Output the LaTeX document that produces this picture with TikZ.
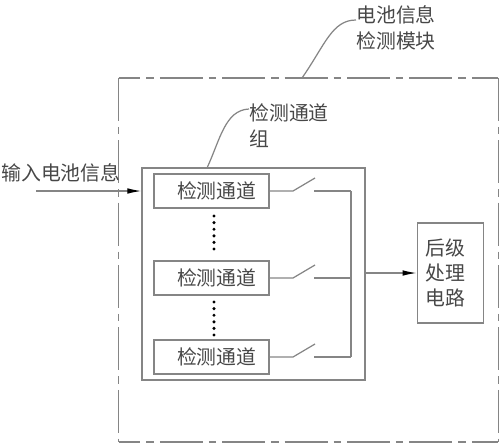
\documentclass[tikz,border=0pt]{standalone}
\usepackage{fontspec}
\setmainfont{Noto Sans CJK SC}
\usepackage{tikz}
\usetikzlibrary{arrows.meta, positioning, calc}
\colorlet{wire}{black!48}
\colorlet{ink}{black!72}
\tikzset{
  caption/.style={font=\fontsize{11.3}{14.8}\selectfont, text=ink, inner sep=0pt, align=left},
  box/.style={draw=wire, line width=0.7pt, inner sep=0pt},
  channel/.style={box, caption, minimum width=2.3cm, minimum height=0.68cm},
  link/.style={draw=wire, line width=0.7pt},
  flow/.style={link, -{Latex[length=8pt,width=3.2pt,color=black]}},
  frameside/.style={link, dash pattern=on 24.4pt off 3.4pt on 4.3pt off 3.4pt},
}
\def\nudge{\hspace*{6pt}}
\def\inset{\hspace*{0.17cm}}

\begin{document}
\begin{tikzpicture}[x=0.02cm, y=-0.02cm]
  \useasboundingbox (0,0) rectangle (500,443);
  % --- outer module and channel group ---
  \node[minimum width=7.58cm, minimum height=7.27cm, inner sep=0pt] (module) at (308.5,260) {};
  \draw[frameside, dash phase=12pt] (module.north west) -- (module.north east);
  \draw[frameside, dash phase=12pt] (module.south west) -- (module.south east);
  \draw[frameside] (module.north west) -- (module.south west);
  \draw[frameside] (module.north east) -- (module.south east);
  \node[box, minimum width=4.46cm, minimum height=4.24cm] (group) at (253.5,274) {};
  % --- channels, switches and the common bus ---
  \def\busx{351}
  \foreach \n/\y in {a/191, b/278, c/357} {
    \node[channel] (chan\n) at (211.5,\y) {\nudge 检测通道};
    \coordinate (pivot\n) at (293,\y);
    \coordinate (blade\n) at (315,\y-13);
    \coordinate (contact\n) at (314,\y);
    \coordinate (bus\n) at (\busx,\y);
    \draw[link] (chan\n.east) -- (pivot\n) -- (blade\n);
    \draw[link] (contact\n) -- (bus\n);
  }
  \draw[link] (busa) -- (busc);
  % --- dots between the channels ---
  \foreach \y in {216,222.6,229.2,235.8,242.4,249,302,308.6,315.2,321.8,328.4,335} {
    \fill[black] (214,\y) circle (1.7);
  }
  % --- back-end circuit and arrows ---
  \node[box, caption, text width=1.33cm, minimum height=2cm, font=\fontsize{11.3}{14.2}\selectfont] (post) at (450.5,273) {\inset 后级\\\inset 处理\\\inset 电路};
  \draw[flow] (group.east |- post.west) -- (post.west);
  \coordinate (inputfoot) at (36,191);
  \draw[flow] (inputfoot) -- (inputfoot -| group.west);
  \node[caption] (input) at (61,173) {输入电池信息};
  % --- callouts ---
  \node[caption, anchor=north west] (modulename) at (356,5) {电池信息\\检测模块};
  \node[caption, anchor=north west] (groupname) at (249,103) {检测通道\\组};
  \coordinate (modulefoot) at (302,78);
  \coordinate (groupfoot) at (207,168);
  \draw[link] (modulefoot) .. controls (325,45) and (332,20) .. (modulename.west |- 0,20);
  \draw[link] (groupfoot) .. controls (220,140) and (225,110) .. (groupname.west |- 0,109);
\end{tikzpicture}
\end{document}
